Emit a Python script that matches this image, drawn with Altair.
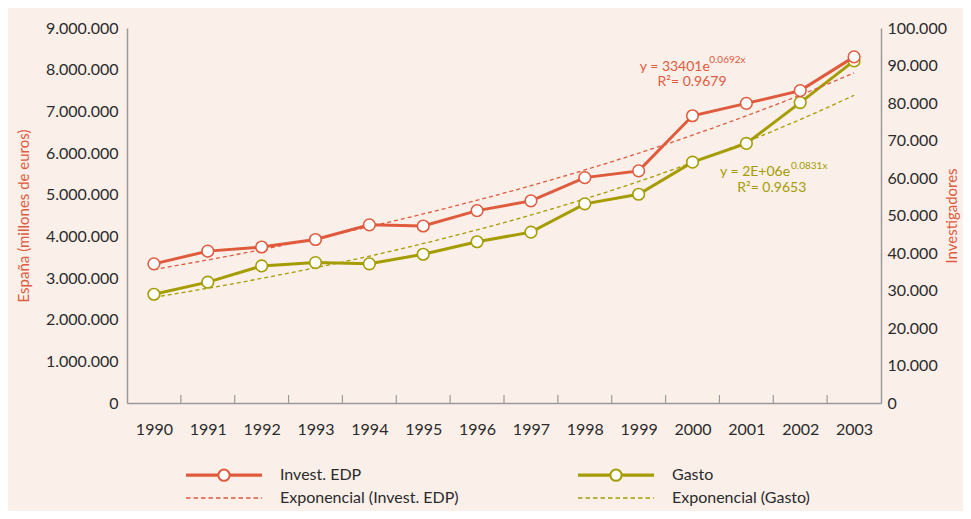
import altair as alt
import pandas as pd

# ---------------- data ----------------
years = list(range(1990, 2004))
invest_edp = [37100, 40500, 41600, 43600, 47500, 47200, 51300, 53900,
              60100, 61900, 76600, 79900, 83300, 92300]
gasto = [2610000, 2900000, 3290000, 3370000, 3340000, 3570000, 3870000,
         4100000, 4780000, 5010000, 5780000, 6230000, 7210000, 8210000]

left_ticks = [0, 1000000, 2000000, 3000000, 4000000, 5000000,
              6000000, 7000000, 8000000, 9000000]
right_ticks = [0, 10000, 20000, 30000, 40000, 50000,
               60000, 70000, 80000, 90000, 100000]

# legend entries (filled column by column)
legend_labels = ["Invest. EDP", "Exponencial (Invest. EDP)",
                 "Gasto", "Exponencial (Gasto)"]

# equation annotations (text, anchor year, anchor value)
red_eq_text = ["y = 33401e", "0.0692x", "R\u00b2= 0.9679"]
red_eq_year = [1999.02, 2000.31, 1999.35]
red_eq_value = [89700, 91500, 85700]
olive_eq_text = ["y = 2E+06e", "0.0831x", "R\u00b2= 0.9653"]
olive_eq_year = [2000.51, 2001.83, 2000.83]
olive_eq_value = [5550000, 5690000, 5170000]
eq_kind = ["main", "sup", "main"]

# ---------------- style ----------------
RED = "#e05a3c"
OLIVE = "#a59c00"
TEXT = "#2b2b2b"
AXIS = "#9a9a9a"
BG = "#fbefe9"
FONT = "Lato"

df = pd.DataFrame({"year": years, "invest": invest_edp, "gasto": gasto})
bounds = pd.DataFrame({"b": [(a + b) / 2 for a, b in zip(years[:-1], years[1:])]})
red_ann = pd.DataFrame({"t": red_eq_text, "year": red_eq_year,
                        "v": red_eq_value, "k": eq_kind})
olive_ann = pd.DataFrame({"t": olive_eq_text, "year": olive_eq_year,
                          "v": olive_eq_value, "k": eq_kind})
leg_df = pd.DataFrame({"serie": legend_labels})

W, H = 754, 375

x_scale = alt.Scale(domain=[1989.5, 2003.5], nice=False, zero=False)
left_scale = alt.Scale(domain=[0, 9000000], nice=False)
right_scale = alt.Scale(domain=[0, 100000], nice=False)

dot_expr = "replace(replace(format(datum.value, ','), ',', '.'), ',', '.')"

x_axis = alt.Axis(values=years, format="d", ticks=False, grid=False,
                  domainColor=AXIS, domainWidth=1.5, labelFontSize=16,
                  labelColor=TEXT, labelPadding=18, title=None,
                  labelFont=FONT)
left_axis = alt.Axis(values=left_ticks, labelExpr=dot_expr, ticks=False,
                     grid=False, domainColor=AXIS, domainWidth=1.5,
                     labelFontSize=16, labelColor=TEXT, labelPadding=9,
                     title="España (millones de euros)", titleColor=RED,
                     titleFontSize=15, titleFontWeight="normal",
                     titlePadding=14, titleFont=FONT, labelFont=FONT)
right_axis = alt.Axis(values=right_ticks, labelExpr=dot_expr, ticks=False,
                      grid=False, domainColor=AXIS, domainWidth=1.5,
                      labelFontSize=16, labelColor=TEXT, labelPadding=6,
                      orient="right", title="Investigadores",
                      titleColor=RED, titleFontSize=15,
                      titleFontWeight="normal", titleAngle=270,
                      titlePadding=13, titleFont=FONT, labelFont=FONT)


def X(field="year"):
    return alt.X(f"{field}:Q", scale=x_scale, axis=x_axis, title=None)


def YL(field):
    return alt.Y(f"{field}:Q", scale=left_scale, axis=left_axis)


def YR(field):
    return alt.Y(f"{field}:Q", scale=right_scale, axis=right_axis)


def exp_trend(base, field, color, yfn):
    # Excel-style exponential trend: least squares on log(y)
    return base.transform_calculate(
        lg=f"log(datum.{field})"
    ).transform_regression(
        "year", "lg", method="poly", order=1, extent=[1990, 2003]
    ).transform_calculate(
        fit="exp(datum.lg)"
    ).mark_line(color=color, strokeDash=[4, 3], strokeWidth=1.3).encode(
        x=X(), y=yfn("fit"))


size_scale = alt.Scale(domain=["main", "sup"], range=[14, 10])

# ---------- left group (Gasto) ----------
gbase = alt.Chart(df)
g_line = gbase.mark_line(color=OLIVE, strokeWidth=3).encode(
    x=X(), y=YL("gasto"))
g_trend = exp_trend(gbase, "gasto", OLIVE, YL)
g_pts = gbase.mark_point(shape="circle", filled=True, fill="white",
                         stroke=OLIVE, strokeWidth=1.6, size=135,
                         opacity=1).encode(x=X(), y=YL("gasto"))
ticks = alt.Chart(bounds).mark_rule(color=AXIS, strokeWidth=1.2).encode(
    x=X("b"), y=alt.value(H), y2=alt.value(H - 8))
g_ann = alt.Chart(olive_ann).mark_text(
    align="left", baseline="middle", font=FONT, color=OLIVE).encode(
    x=X(), y=YL("v"), text="t:N",
    size=alt.Size("k:N", scale=size_scale, legend=None))
left = alt.layer(g_line, g_trend, g_pts, ticks, g_ann)

# ---------- right group (Invest. EDP) ----------
rbase = alt.Chart(df)
r_line = rbase.mark_line(color=RED, strokeWidth=3).encode(
    x=X(), y=YR("invest"))
r_trend = exp_trend(rbase, "invest", RED, YR)
r_pts = rbase.mark_point(shape="circle", filled=True, fill="white",
                         stroke=RED, strokeWidth=1.6, size=135,
                         opacity=1).encode(x=X(), y=YR("invest"))
r_ann = alt.Chart(red_ann).mark_text(
    align="left", baseline="middle", font=FONT, color=RED).encode(
    x=X(), y=YR("v"), text="t:N",
    size=alt.Size("k:N", scale=size_scale, legend=None))


# legend symbols: line with open circle / dashed line (custom SVG paths)
# unit = 6 px (symbolSize 144); lines span +-38 px
def solid_path():
    L = 6.33
    p = ""
    for dy in (-0.17, 0.0, 0.17):
        p += f"M{-L},{dy}L-1,{dy}M1,{dy}L{L},{dy}"
    for rr in (1.0, 0.88):
        p += (f"M{rr},0A{rr},{rr},0,1,1,{-rr},0"
              f"A{rr},{rr},0,1,1,{rr},0Z")
    return p


def dashed_path():
    L = 6.33
    p = ""
    x0 = -L
    while x0 < L - 0.1:
        x1 = min(x0 + 0.75, L)
        p += f"M{x0:.3f},0L{x1:.3f},0"
        x0 += 1.25
    return p


sym_paths = [solid_path(), dashed_path(), solid_path(), dashed_path()]
leg_colors = [RED, RED, OLIVE, OLIVE]
leg = alt.Legend(orient="none", legendX=89, legendY=439, columns=2,
                 direction="vertical",
                 columnPadding=116, rowPadding=6, padding=0, title=None,
                 labelFont=FONT, labelFontSize=16, labelColor=TEXT,
                 labelOffset=48, labelLimit=400, symbolSize=144,
                 symbolOpacity=1, symbolStrokeWidth=1.3)
leg_layer = alt.Chart(leg_df).mark_point(
    filled=False, fill="white", opacity=0, strokeWidth=1.3).encode(
    color=alt.Color("serie:N", scale=alt.Scale(
        domain=legend_labels, range=leg_colors), legend=leg),
    shape=alt.Shape("serie:N", scale=alt.Scale(
        domain=legend_labels, range=sym_paths), legend=leg))

right = alt.layer(r_line, r_trend, r_pts, r_ann, leg_layer)

chart = alt.layer(left, right).resolve_scale(
    y="independent", size="independent"
).properties(
    width=W, height=H, background=BG,
    autosize=alt.AutoSizeParams(type="none"),
    padding={"left": 119, "top": 20, "right": 82, "bottom": 108},
).configure_view(stroke=None)

chart.save("out.html", embed_options={"renderer": "svg", "actions": False})
